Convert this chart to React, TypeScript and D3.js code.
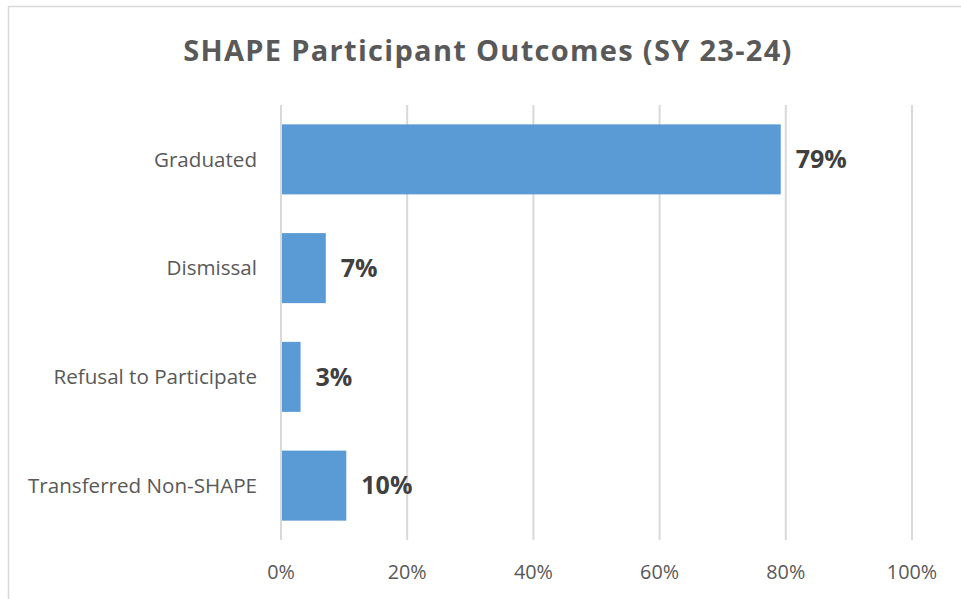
import React, { useRef, useEffect } from 'react';
import * as d3 from 'd3';

const categories = ['Graduated', 'Dismissal', 'Refusal to Participate', 'Transferred Non-SHAPE'];
const values = [0.792, 0.071, 0.031, 0.1035];
const valueLabels = ['79%', '7%', '3%', '10%'];
const ticks = [0, 0.2, 0.4, 0.6, 0.8, 1.0];
const title = 'SHAPE Participant Outcomes (SY 23-24)';

const App = () => {
  const svgRef = useRef<SVGSVGElement>(null);

  useEffect(() => {
    const svg = d3.select(svgRef.current);
    svg.selectAll('*').remove();

    const width = 961;
    const height = 599;
    const margin = { top: 105, right: 49, bottom: 59, left: 281 };
    const font = '"Open Sans", sans-serif';

    // chart border (runs off the right and bottom edges)
    svg.append('rect')
      .attr('x', 8.5).attr('y', 6.5)
      .attr('width', width + 10).attr('height', height + 10)
      .attr('fill', '#fff')
      .attr('stroke', '#d9d9d9')
      .attr('stroke-width', 1.5);

    const x = d3.scaleLinear().domain([0, 1]).range([margin.left, width - margin.right]);
    const y = d3.scaleBand<string>()
      .domain(categories)
      .range([margin.top, height - margin.bottom])
      .paddingInner(0.356)
      .paddingOuter(0.178);

    // vertical gridlines
    svg.append('g')
      .selectAll('line')
      .data(ticks)
      .join('line')
      .attr('x1', d => x(d)).attr('x2', d => x(d))
      .attr('y1', margin.top).attr('y2', height - margin.bottom)
      .attr('stroke', '#d9d9d9')
      .attr('stroke-width', 2);

    // bars
    svg.append('g')
      .selectAll('rect')
      .data(categories)
      .join('rect')
      .attr('x', x(0) + 1)
      .attr('y', d => y(d)!)
      .attr('width', (d, i) => x(values[i]) - x(0) - 1)
      .attr('height', y.bandwidth())
      .attr('fill', '#5b9bd5');

    // value labels
    svg.append('g')
      .selectAll('text')
      .data(categories)
      .join('text')
      .attr('x', (d, i) => x(values[i]) + 15)
      .attr('y', d => y(d)! + y.bandwidth() / 2)
      .attr('dy', '0.35em')
      .attr('font-family', font)
      .attr('font-weight', 'bold')
      .attr('font-size', 25)
      .attr('fill', '#404040')
      .text((d, i) => valueLabels[i]);

    // category labels
    svg.append('g')
      .selectAll('text')
      .data(categories)
      .join('text')
      .attr('x', margin.left - 24)
      .attr('y', d => y(d)! + y.bandwidth() / 2)
      .attr('dy', '0.35em')
      .attr('text-anchor', 'end')
      .attr('font-family', font)
      .attr('font-size', 20.6)
      .attr('fill', '#595959')
      .text(d => d);

    // x tick labels
    svg.append('g')
      .selectAll('text')
      .data(ticks)
      .join('text')
      .attr('x', d => x(d))
      .attr('y', 572)
      .attr('dy', '0.35em')
      .attr('text-anchor', 'middle')
      .attr('font-family', font)
      .attr('font-size', 19.8)
      .attr('fill', '#595959')
      .text(d => d3.format('.0%')(d));

    // title
    svg.append('text')
      .attr('x', 488)
      .attr('y', 51)
      .attr('dy', '0.35em')
      .attr('text-anchor', 'middle')
      .attr('font-family', font)
      .attr('font-weight', 'bold')
      .attr('font-size', 29)
      .attr('letter-spacing', 1.3)
      .attr('fill', '#595959')
      .text(title);
  }, []);

  return (
    <svg
      ref={svgRef}
      width={961}
      height={599}
      style={{ position: 'absolute', left: 0, top: 0, display: 'block' }}
    />
  );
};

export default App;
